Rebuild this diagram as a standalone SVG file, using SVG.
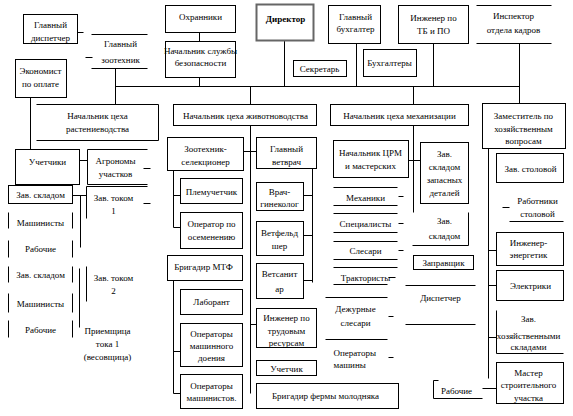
<svg xmlns="http://www.w3.org/2000/svg" width="573" height="416" viewBox="0 0 573 416">
<style>
.b{fill:#fff;stroke:#000;stroke-width:1}
.l{fill:none;stroke:#000;stroke-width:1}
text{font-family:"Liberation Serif","Times New Roman",serif;font-size:9px;text-anchor:middle;fill:#000}
.s{text-anchor:start}
</style>
<rect x="0" y="0" width="573" height="416" fill="#fff"/>
<g transform="translate(0.5,0.5)">
<g id="connectors" class="l">
<path d="M77,32H83M85,57H92M115,68V104M115,86H519M199,32V41M199,77V86M284,40V86M356,43V86M433,43V86M519,43V103M250,86V104M413,86V104"/>
<path d="M30,97V149M79,160H87M72,195H86M80,195V247M79,268V327M143,168H150M143,203H150"/>
<path d="M250,125V393M243,151H256M250,324H256M173,170V227M173,195H180M173,227H180M173,280V393M173,351H180M173,393H180M312,168V282M303,195H312M303,235H312M303,280H312"/>
<path d="M413,125V212M408,160H420M398,196H403M398,223H403M398,250H403M388,277H395M388,316H393M388,357H393"/>
<path d="M488,148V378M488,250H496M488,285H496M488,337H496M482,388H496"/>
</g>
<g id="n_dispatcher"><rect class="b" x="23" y="14" width="54" height="29"/><text x="50" y="27">Главный</text><text x="50" y="40">диспетчер</text></g>
<g id="n_zootech"><path class="l" d="M91,34H147M91,68H147"/><text x="120" y="46">Главный</text><text x="120" y="62">зоотехник</text></g>
<g id="n_economist"><rect class="b" x="15" y="59" width="51" height="38"/><text x="40" y="73">Экономист</text><text x="40" y="86">по оплате</text></g>
<g id="n_guards"><rect class="b" x="165" y="5" width="70" height="27"/><text x="200" y="19">Охранники</text></g>
<g id="n_security"><rect class="b" x="165" y="41" width="70" height="36"/><text x="200" y="53">Начальник службы</text><text x="200" y="65">безопасности</text></g>
<g id="n_director"><rect x="256" y="4" width="57" height="36" fill="#fff" stroke="#666" stroke-width="2"/><text x="285" y="21" font-weight="bold">Директор</text></g>
<g id="n_chief_acc"><rect class="b" x="328" y="5" width="52" height="38"/><text x="355" y="19">Главный</text><text x="355" y="31">бухгалтер</text></g>
<g id="n_engineer"><rect class="b" x="398" y="5" width="70" height="38"/><text x="433" y="20">Инженер по</text><text x="433" y="33">ТБ и ПО</text></g>
<g id="n_inspector"><path class="l" d="M476,5H551M476,43H551"/><text x="513" y="18">Инспектор</text><text x="513" y="32">отдела кадров</text></g>
<g id="n_secretary"><rect class="b" x="293" y="60" width="53" height="16"/><text x="319" y="71">Секретарь</text></g>
<g id="n_accountants"><rect class="b" x="363" y="49" width="53" height="27"/><text x="389" y="65">Бухгалтеры</text></g>
<g id="n_plant_head"><path class="l" d="M36,104H158V140H36"/><text x="97" y="118">Начальник цеха</text><text x="97" y="131">растениеводства</text></g>
<g id="n_livestock_head"><rect class="b" x="173" y="104" width="143" height="21"/><text x="245" y="118">Начальник цеха животноводства</text></g>
<g id="n_mech_head"><rect class="b" x="330" y="104" width="138" height="21"/><text x="399" y="118">Начальник цеха механизации</text></g>
<g id="n_deputy"><rect class="b" x="482" y="103" width="83" height="45"/><text x="523" y="118">Заместитель по</text><text x="523" y="131">хозяйственным</text><text x="523" y="143">вопросам</text></g>
<g id="n_uchetchiki"><rect class="b" x="15" y="149" width="64" height="35"/><text x="47" y="164">Учетчики</text></g>
<g id="n_agronomists"><path class="l" d="M147,149H87V184H147"/><text x="115" y="163">Агрономы</text><text x="115" y="176">участков</text></g>
<g id="n_store1"><rect class="b" x="8" y="185" width="64" height="18"/><text x="40" y="197">Зав. складом</text></g>
<g id="n_tok1"><path class="l" d="M147,186H86V218"/><text x="113" y="200">Зав. током</text><text x="113" y="213">1</text></g>
<g id="n_machinists1"><path class="l" d="M8,212V228M72,212V228"/><text x="40" y="225">Машинисты</text></g>
<g id="n_workers1"><path class="l" d="M8,240V257M72,240V257"/><text x="40" y="251">Рабочие</text></g>
<g id="n_store2"><path class="l" d="M8,266V282M72,266V282"/><text x="40" y="277">Зав. складом</text></g>
<g id="n_tok2"><path class="l" d="M86,266V301"/><text x="113" y="280">Зав. током</text><text x="113" y="293">2</text></g>
<g id="n_machinists2"><path class="l" d="M8,293V312M72,293V312"/><text x="40" y="306">Машинисты</text></g>
<g id="n_workers2"><path class="l" d="M8,320V337M72,320V337"/><text x="40" y="332">Рабочие</text></g>
<g id="n_receiver"><text x="107" y="333">Приемщица</text><text x="107" y="346">тока 1</text><text x="107" y="359">(весовщица)</text></g>
<g id="n_selection"><rect class="b" x="167" y="137" width="76" height="33"/><text x="205" y="151">Зоотехник-</text><text x="205" y="164">селекционер</text></g>
<g id="n_vet_chief"><rect class="b" x="256" y="137" width="60" height="31"/><text x="286" y="151">Главный</text><text x="286" y="164">ветврач</text></g>
<g id="n_plemuch"><rect class="b" x="180" y="178" width="62" height="25"/><text x="211" y="194">Племучетчик</text></g>
<g id="n_inseminator"><rect class="b" x="180" y="212" width="62" height="36"/><text x="211" y="226">Оператор по</text><text x="211" y="239">осеменению</text></g>
<g id="n_mtf"><rect class="b" x="167" y="255" width="75" height="25"/><text x="203" y="269">Бригадир МТФ</text></g>
<g id="n_vet_gyn"><rect class="b" x="256" y="182" width="47" height="28"/><text x="279" y="194">Врач-</text><text x="279" y="206">гинеколог</text></g>
<g id="n_vetfeld"><rect class="b" x="256" y="221" width="47" height="34"/><text x="279" y="235">Ветфельд</text><text x="279" y="248">шер</text></g>
<g id="n_vetsan"><rect class="b" x="256" y="263" width="47" height="35"/><text x="279" y="276">Ветсанит</text><text x="279" y="291">ар</text></g>
<g id="n_labor"><rect class="b" x="256" y="308" width="60" height="39"/><text x="286" y="320">Инженер по</text><text x="286" y="333">трудовым</text><text x="286" y="345">ресурсам</text></g>
<g id="n_uchetchik"><rect class="b" x="256" y="360" width="60" height="15"/><text x="286" y="371">Учетчик</text></g>
<g id="n_brig_young"><rect class="b" x="256" y="383" width="142" height="25"/><text x="325" y="398">Бригадир фермы молодняка</text></g>
<g id="n_lab"><rect class="b" x="180" y="289" width="62" height="25"/><text x="211" y="304">Лаборант</text></g>
<g id="n_milk_ops"><rect class="b" x="180" y="323" width="62" height="43"/><text x="211" y="336">Операторы</text><text x="211" y="348">машинного</text><text x="211" y="360">доения</text></g>
<g id="n_ops2"><rect class="b" x="180" y="374" width="62" height="34"/><text x="211" y="388">Операторы</text><text x="211" y="400">машинистов.</text></g>
<g id="n_crm"><rect class="b" x="333" y="140" width="75" height="37"/><text x="370" y="155">Начальник ЦРМ</text><text x="370" y="168">и мастерских</text></g>
<g id="n_parts_store"><rect class="b" x="420" y="142" width="48" height="61"/><text x="444" y="156">Зав.</text><text x="444" y="169">складом</text><text x="444" y="182">запасных</text><text x="444" y="195">деталей</text></g>
<g id="n_mechanics"><path class="l" d="M333,187H397M333,205H397"/><text x="365" y="200">Механики</text></g>
<g id="n_specialists"><path class="l" d="M333,213H397M333,232H397"/><text x="365" y="226">Специалисты</text></g>
<g id="n_slesari"><path class="l" d="M333,241H397M333,259H397"/><text x="365" y="253">Слесари</text></g>
<g id="n_tractor"><path class="l" d="M333,267H397M333,284H387"/><text x="365" y="280">Трактористы</text></g>
<g id="n_store3"><path class="l" d="M468,212V245H412"/><text x="444" y="223">Зав.</text><text x="444" y="238">складом</text></g>
<g id="n_refueler"><rect class="b" x="413" y="255" width="60" height="14"/><text x="443" y="265">Заправщик</text></g>
<g id="n_dispatcher2"><path class="l" d="M405,285H475M405,324H475"/><text x="440" y="300">Диспетчер</text></g>
<g id="n_duty"><path class="l" d="M325,297H387M325,339H387"/><text x="355" y="311">Дежурные</text><text x="355" y="325">слесари</text></g>
<g id="n_operators"><text class="s" x="333" y="355">Операторы</text><text class="s" x="333" y="367">машины</text></g>
<g id="n_workers3"><path class="l" d="M438,380H433V398H482"/><text x="456" y="393">Рабочие</text></g>
<g id="n_canteen_head"><rect class="b" x="496" y="153" width="67" height="29"/><text x="530" y="171">Зав. столовой</text></g>
<g id="n_canteen_workers"><path class="l" d="M502,207H509M509,221H563"/><text x="537" y="203">Работники</text><text x="537" y="216">столовой</text></g>
<g id="n_energy"><rect class="b" x="496" y="232" width="67" height="33"/><text x="528" y="245">Инженер-</text><text x="528" y="257">энергетик</text></g>
<g id="n_electricians"><rect class="b" x="496" y="270" width="67" height="30"/><text x="530" y="288">Электрики</text></g>
<g id="n_store_hoz"><path class="l" d="M496,310V353H563"/><text x="528" y="321">Зав.</text><text x="528" y="338">хозяйственными</text><text x="528" y="349">складами</text></g>
<g id="n_master"><rect class="b" x="496" y="362" width="67" height="41"/><text x="528" y="375">Мастер</text><text x="528" y="387">строительного</text><text x="528" y="400">участка</text></g>
</g>
</svg>
